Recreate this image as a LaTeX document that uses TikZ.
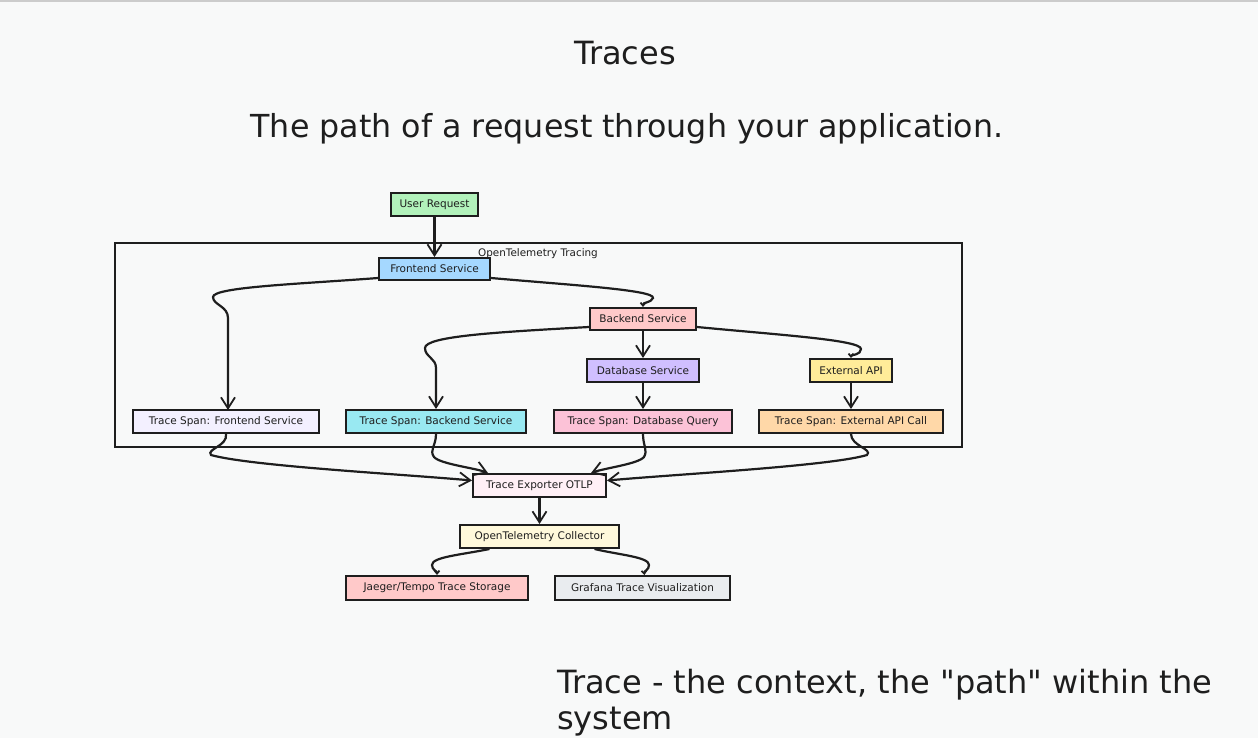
\documentclass[tikz,border=0pt]{standalone}
\usepackage{fontspec}
\setmainfont{DejaVu Sans}
\newfontfamily\qfont{DejaVu Sans}
\usetikzlibrary{arrows.meta}
\definecolor{bg}{HTML}{F8F9F9}
\definecolor{ink}{HTML}{1E1E1E}
\definecolor{cgreen}{HTML}{B2F2BB}
\definecolor{cblue}{HTML}{A5D8FF}
\definecolor{cpink}{HTML}{FFC9C9}
\definecolor{cviolet}{HTML}{D0BFFF}
\definecolor{cyellow}{HTML}{FFEC99}
\definecolor{clav}{HTML}{F3F0FF}
\definecolor{ccyan}{HTML}{99E9F2}
\definecolor{crose}{HTML}{FCC2D7}
\definecolor{corange}{HTML}{FFD8A8}
\definecolor{cblush}{HTML}{FFF0F6}
\definecolor{ccream}{HTML}{FFF9DB}
\definecolor{cgray}{HTML}{E9ECEF}
\begin{document}
\begin{tikzpicture}[x=1pt,y=-1pt,
  box/.style={draw=ink, line width=2pt, inner sep=0pt, text=ink,
    font=\fontsize{10.5}{12}\selectfont},
  conn/.style={draw=ink, line width=2.2pt,
    -{Straight Barb[length=11pt,width=14pt,line width=1.8pt]}},
  stub/.style={draw=ink, line width=2.2pt,
    -{Straight Barb[length=3pt,width=5pt,line width=1.8pt]}},
  big/.style={text=ink, font=\fontsize{32}{36}\selectfont, inner sep=0pt},
]
\useasboundingbox (0,0) rectangle (1258,738);
\fill[bg] (0,0) rectangle (1258,738);
\fill[black!20] (0,0) rectangle (1258,2.5);

% titles
\node[big, anchor=base] (title) at (625,65) {Traces};
\node[big, font=\fontsize{31.7}{36}\selectfont, anchor=base] (sub) at (627,138) {The path of a request through your application.};

% frame
\draw[ink, line width=2pt] (115,243) rectangle (962,447);
\node[text=ink, font=\fontsize{10.4}{12}\selectfont, inner sep=0pt] (lbl) at (538,254) {OpenTelemetry Tracing};

% nodes
\node[box, fill=cgreen, minimum width=87pt, minimum height=23pt] (ur) at (434.5,204.5) {User Request};
\node[box, fill=cblue, minimum width=111pt, minimum height=22pt] (fe) at (434.5,269) {Frontend Service};
\node[box, fill=cpink, minimum width=106pt, minimum height=22pt] (be) at (643,319) {Backend Service};
\node[box, fill=cviolet, minimum width=112pt, minimum height=23pt] (db) at (643,370.5) {Database Service};
\node[box, fill=cyellow, minimum width=82pt, minimum height=23pt] (ext) at (851,370.5) {External API};
\node[box, fill=clav, minimum width=186pt, minimum height=23pt] (tsf) at (226,421.5) {Trace Span: Frontend Service};
\node[box, fill=ccyan, minimum width=180pt, minimum height=23pt] (tsb) at (436,421.5) {Trace Span: Backend Service};
\node[box, fill=crose, minimum width=178pt, minimum height=23pt] (tsd) at (643,421.5) {Trace Span: Database Query};
\node[box, fill=corange, minimum width=184pt, minimum height=23pt] (tse) at (851,421.5) {Trace Span: External API Call};
\node[box, fill=cblush, minimum width=133pt, minimum height=23pt] (exp) at (539.5,485.5) {Trace Exporter OTLP};
\node[box, fill=ccream, minimum width=159pt, minimum height=23pt] (col) at (539.5,536.5) {OpenTelemetry Collector};
\node[box, fill=cpink, minimum width=182pt, minimum height=24pt] (jae) at (437,588) {Jaeger/Tempo Trace Storage};
\node[box, fill=cgray, minimum width=175pt, minimum height=24pt] (gra) at (642.5,588) {Grafana Trace Visualization};

% connectors
\draw[conn] (ur.south) -- (fe.north);
\draw[conn] ([yshift=3pt]fe.south west) .. controls (300,284) and (213,287) .. (213,297)
  .. controls (213,305) and (228,306) .. (228,318) -- (228,410);
\draw[stub] ([yshift=3pt]fe.south east) .. controls (570,285) and (655,290) .. (653,298)
  .. controls (651,303) and (643,302) .. (be.north);
\draw[conn] ([yshift=4pt]be.south west) .. controls (500,332) and (425,336) .. (425,348)
  .. controls (425,357) and (436,358) .. (436,368) -- (tsb.north);
\draw[stub] ([yshift=4pt]be.south east) .. controls (780,335) and (861,340) .. (861,349)
  .. controls (861,355) and (851,355) .. (ext.north);
\draw[conn] (be.south) -- (db.north);
\draw[conn] (db.south) -- (tsd.north);
\draw[conn] (ext.south) -- (tse.north);

\draw[conn] (tsf.south) .. controls (228,446) and (206,449) .. (211,455)
  .. controls (250,466) and (400,474) .. ([yshift=5pt]exp.west);
\draw[conn] (tsb.south) .. controls (436,446) and (429,450) .. (434,457)
  .. controls (440,464) and (475,468) .. ([xshift=16pt]exp.north west);
\draw[conn] (tsd.south) .. controls (643,446) and (648,450) .. (644,457)
  .. controls (638,464) and (605,468) .. ([xshift=-16pt]exp.north east);
\draw[conn] (tse.south) .. controls (851,446) and (873,449) .. (867,455)
  .. controls (830,466) and (680,474) .. ([yshift=5pt]exp.east);

\draw[conn] (exp.south) -- (col.north);
\draw[stub] ([xshift=-50pt]col.south) .. controls (460,555) and (432,557) .. (432,565)
  .. controls (432,570) and (437,571) .. (jae.north);
\draw[stub] ([xshift=55pt]col.south) .. controls (620,555) and (649,557) .. (649,565)
  .. controls (649,570) and (644,571) .. ([xshift=2pt]gra.north);

% bottom note
\node[big, anchor=base west] (note1) at (557,693) {Trace - the context, the {\qfont"}path{\qfont"} within the};
\node[big, anchor=base west] (note2) at (557,729) {system};
\end{tikzpicture}
\end{document}
